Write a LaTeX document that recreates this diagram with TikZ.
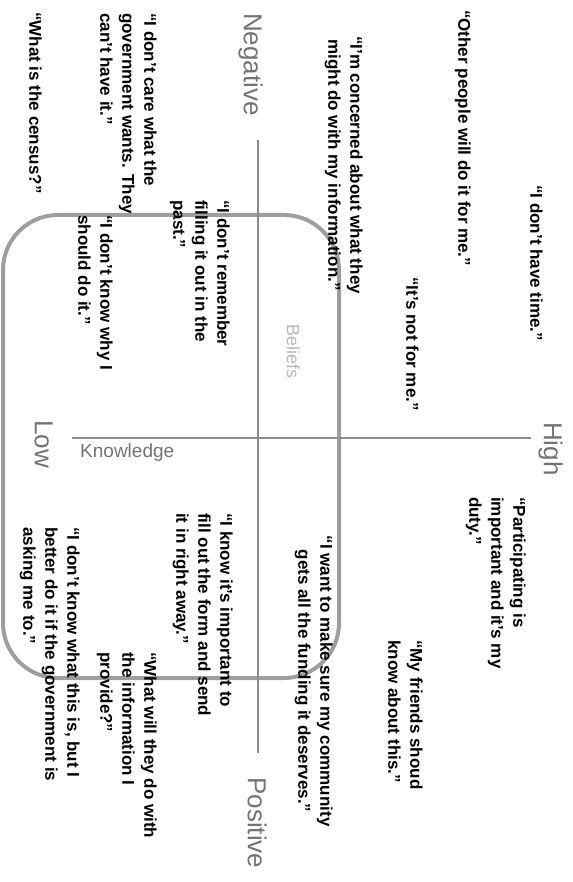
\documentclass[tikz,border=0pt]{standalone}
\usepackage{fontspec}
\setmainfont{Liberation Sans}
\begin{document}
\begin{tikzpicture}[x=1pt,y=-1pt,
  quote/.style={rotate=-90, inner sep=0pt, font=\bfseries\fontsize{17}{22}\selectfont},
  lq/.style={quote, anchor=north west, align=left},
  cq/.style={quote, anchor=north, align=center},
  pole/.style={rotate=-90, anchor=north west, inner sep=0pt, text=black!55,
               font=\fontsize{26}{30}\selectfont},
  axis/.style={draw=black!45, line width=1.2pt},
  frame/.style={draw=black!38, line width=4pt, rounded corners=55pt}]
\useasboundingbox (0,0) rectangle (572,882);

% rounded frame behind the quotes
\draw[frame] (3,215) rectangle (339,678);

% the two axes
\coordinate (negEnd) at (258,140);
\coordinate (posEnd) at (258,753);
\coordinate (lowEnd) at (72,438);
\coordinate (highEnd) at (531,438);
\draw[axis] (negEnd) -- (posEnd);
\draw[axis] (lowEnd) -- (highEnd);

% axis labels
\node[pole] (neg) at (263,13) {Negative};
\node[pole] (pos) at (267,777) {Positive};
\node[pole] (high) at (563,422) {High};
\node[pole] (low) at (53,420) {Low};
\node[anchor=north west, inner sep=0pt, text=black!55,
      font=\fontsize{19}{22}\selectfont] (know) at (80,444) {Knowledge};
\node[rotate=-90, anchor=north west, inner sep=0pt, text=black!28,
      font=\fontsize{18}{20}\selectfont] (bel) at (300,324) {Beliefs};

% quotes
\node[lq] (q1) at (543,185) {“I don't have time.”};
\node[lq] (q2) at (471,10) {“Other people will do it for me.”};
\node[lq] (q3) at (419,277) {“It's not for me.”};
\node[cq] (q4) at (363,165) {“I'm concerned about what they\\might do with my information.”};
\node[lq] (q5) at (230,200) {“I don't remember\\filling it out in the\\past.”};
\node[lq] (q6) at (157,13) {“I don't care what the\\government wants. They\\can't have it.”};
\node[lq] (q7) at (42,12) {“What is the census?”};
\node[lq] (q8) at (113,215) {“I don't know why I\\should do it.”};
\node[lq] (q9) at (526,497) {“Participating is\\important and it's my\\duty.”};
\node[lq] (q10) at (423,640) {“My friends shoud\\know about this.”};
\node[cq] (q11) at (333,681) {“I want to make sure my community\\gets all the funding it deserves.”};
\node[lq] (q12) at (233,513) {“I know it's important to\\fill out the form and send\\it in right away.”};
\node[lq] (q13) at (157,652) {“What will they do with\\the information I\\provide?”};
\node[lq] (q14) at (80,527) {“I don't know what this is, but I\\better do it if the government is\\asking me to.”};
\end{tikzpicture}
\end{document}
